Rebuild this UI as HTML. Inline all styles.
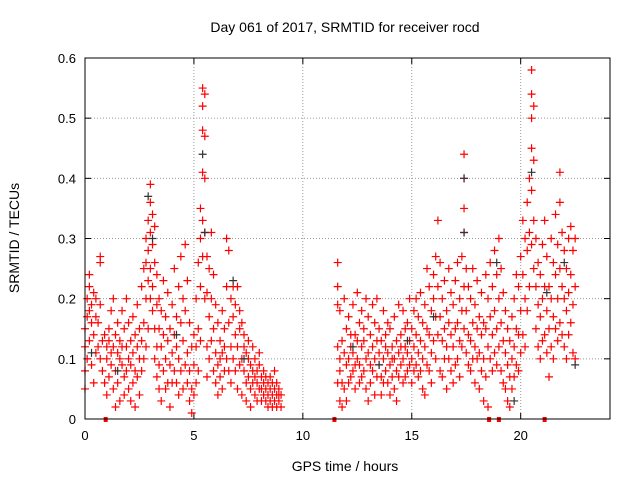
<!DOCTYPE html>
<html><head><meta charset="utf-8"><style>
body{margin:0;background:#fff;}
svg{display:block;font-family:"Liberation Sans",sans-serif;}
</style></head><body>
<svg id="chart" width="640" height="480">
<text x="345" y="32" text-anchor="middle" font-size="14">Day 061 of 2017, SRMTID for receiver rocd</text>
<text x="345" y="471" text-anchor="middle" font-size="14">GPS time / hours</text>
<text transform="translate(19,238) rotate(-90)" text-anchor="middle" font-size="14">SRMTID / TECUs</text>
<g id="grid"></g><g id="ticks"></g><g id="pts"></g>
<rect x="85" y="58" width="525" height="361" fill="none" stroke="#000"/>
</svg>
<script>
const xTicks=[0,5,10,15,20];
const yTicks=[0,0.1,0.2,0.3,0.4,0.5,0.6];
const hours=[0.0,0.1,0.2,0.3,0.4,0.5,0.6,0.7,0.8,0.9,1.0,1.1,1.2,1.3,1.4,1.5,1.6,1.7,1.8,1.9,2.0,2.1,2.2,2.3,2.4,2.5,2.6,2.7,2.8,2.9,3.0,3.1,3.2,3.3,3.4,3.5,3.6,3.7,3.8,3.9,4.0,4.1,4.2,4.3,4.4,4.5,4.6,4.7,4.8,4.9,5.0,5.1,5.2,5.3,5.4,5.5,5.6,5.7,5.8,5.9,6.0,6.1,6.2,6.3,6.4,6.5,6.6,6.7,6.8,6.9,7.0,7.1,7.2,7.3,7.4,7.5,7.6,7.7,7.8,7.9,8.0,8.1,8.2,8.3,8.4,8.5,8.6,8.7,8.8,8.9,9.0,
11.6,11.7,11.8,11.9,12.0,12.1,12.2,12.3,12.4,12.5,12.6,12.7,12.8,12.9,13.0,13.1,13.2,13.3,13.4,13.5,13.6,13.7,13.8,13.9,14.0,14.1,14.2,14.3,14.4,14.5,14.6,14.7,14.8,14.9,15.0,15.1,15.2,15.3,15.4,15.5,15.6,15.7,15.8,15.9,16.0,16.1,16.2,16.3,16.4,16.5,16.6,16.7,16.8,16.9,17.0,17.1,17.2,17.3,17.4,17.5,17.6,17.7,17.8,17.9,18.0,18.1,18.2,18.3,18.4,18.5,18.6,18.7,18.8,18.9,19.0,19.1,19.2,19.3,19.4,19.5,19.6,19.7,19.8,19.9,20.0,20.1,20.2,20.3,20.4,20.5,20.6,20.7,20.8,20.9,21.0,21.1,21.2,21.3,21.4,21.5,21.6,21.7,21.8,21.9,22.0,22.1,22.2,22.3,22.4,22.5];
const srmtid=[[.08,.15,.05,.12],[.17,.2,.1],[.22,.13,.18,.24],[.19,.09,.16],[.14,.21,.06],[.17,.11,.2],[.16,.12],[.27,.26,.1,.19],[.13,.08],[.06,.14],[.1,.12,.04],[.15,.07,.13],[.09,.18,.11],[.12,.05,.2],[.08,.14,.02],[.11,.16,.06],[.13,.03,.1],[.18,.09,.12],[.07,.15,.04],[.12,.2,.08],[.1,.16,.05],[.13,.03,.09],[.17,.11,.06],[.08,.14,.02],[.12,.19,.07],[.1,.15,.04],[.22,.13,.08],[.25,.16,.1],[.3,.2,.12,.26],[.28,.23,.15,.33],[.39,.36,.31,.25,.2],[.34,.29,.22,.18],[.32,.26,.15,.1],[.24,.19,.12,.07],[.2,.15,.09,.05],[.18,.12,.03],[.23,.14,.08],[.17,.1,.05],[.21,.13,.06],[.15,.09,.02],[.19,.11,.06],[.14,.08,.25],[.12,.06,.17],[.22,.1,.04],[.27,.16,.08],[.2,.13,.05],[.29,.18,.09],[.23,.11,.06],[.16,.08,.03],[.12,.05,.01],[.14,.09,.04],[.2,.12,.06],[.26,.15,.08],[.35,.3,.22,.13],[.55,.52,.48,.41,.33,.27],[.54,.47,.4,.31,.2],[.27,.21,.12,.07],[.25,.17,.1],[.31,.2,.13],[.24,.15,.08],[.19,.11,.06],[.16,.09,.04],[.13,.07,.1],[.18,.11,.05],[.15,.08,.12],[.3,.22,.1],[.28,.16,.08],[.2,.12,.06],[.17,.1,.22],[.14,.08,.19],[.22,.12,.05],[.18,.09,.15],[.16,.1,.04],[.14,.08,.12],[.11,.06,.03],[.13,.07,.1],[.09,.05,.02],[.12,.06,.08],[.1,.04,.07],[.08,.03,.06],[.09,.05,.11],[.07,.03,.05],[.06,.04,.08],[.05,.03,.07],[.06,.02,.04],[.05,.03,.07],[.04,.02,.06],[.05,.03,.08],[.04,.02,.06],[.05,.03,.04],[.04,.02],
[.26,.22,.19,.12,.06],[.18,.1,.03,.08],[.13,.06,.02],[.2,.11,.05],[.15,.09,.03],[.17,.1,.06],[.12,.07,.14],[.19,.11,.08],[.14,.09,.05],[.21,.13,.1],[.16,.09,.06],[.18,.12,.07],[.13,.08,.15],[.2,.1,.05],[.17,.11,.03],[.14,.09,.06],[.19,.12,.08],[.16,.1,.04],[.2,.13,.07],[.15,.09,.11],[.13,.07,.04],[.18,.1,.06],[.14,.08,.12],[.11,.06,.16],[.15,.09,.04],[.12,.07,.1],[.17,.1,.05],[.13,.08,.03],[.19,.11,.07],[.14,.09,.12],[.18,.1,.06],[.12,.07,.15],[.16,.11,.08],[.2,.13,.09],[.15,.1,.06],[.18,.12,.08],[.14,.09,.2],[.17,.11,.07],[.21,.13,.08],[.16,.1,.05],[.19,.12,.04],[.25,.15,.09],[.22,.14,.08],[.18,.11,.06],[.2,.13,.24],[.27,.17,.1],[.33,.22,.14],[.26,.17,.08],[.2,.13,.07],[.23,.15,.1],[.18,.12,.05],[.25,.16,.1],[.21,.14,.08],[.19,.12,.06],[.23,.15,.09],[.26,.16,.1],[.2,.13,.07],[.27,.18,.12],[.44,.4,.35,.31,.22,.15],[.25,.18,.11],[.22,.14,.09],[.2,.13,.08],[.25,.16,.1],[.19,.12,.06],[.23,.15,.1],[.17,.11,.05],[.21,.14,.08],[.16,.1,.03],[.24,.15,.07],[.2,.12,.02],[.26,.17,.1],[.22,.14,.08],[.28,.18,.11],[.24,.15,.09],[.3,.2,.12],[.25,.16,.08],[.21,.13,.06],[.18,.11,.05],[.15,.09,.03],[.13,.07,.02],[.17,.1,.05],[.2,.12,.07],[.24,.15,.09],[.22,.14,.08],[.27,.18,.11],[.33,.24,.14],[.3,.2,.12],[.36,.28,.18],[.4,.31,.22],[.58,.54,.5,.45,.38,.29],[.52,.43,.33,.25],[.3,.22,.15],[.26,.19,.12],[.24,.17,.1],[.29,.2,.13],[.33,.22,.14],[.27,.18,.11],[.22,.15,.07],[.3,.2,.12],[.26,.17,.1],[.34,.24,.15],[.29,.2,.13],[.41,.36,.25,.16],[.31,.22,.14],[.28,.2,.12],[.25,.18,.1],[.3,.21,.14],[.32,.24,.16],[.28,.19,.11],[.3,.22,.1]];
const darkHours=[0.3,1.5,2.9,3.1,4.2,5.4,5.5,6.8,7.3,12.3,13.5,14.8,16.0,17.4,17.4,18.9,19.7,20.5,21.2,22.0,22.5];
const darkVals=[.11,.08,.37,.3,.14,.44,.31,.23,.1,.12,.09,.13,.17,.4,.31,.26,.03,.41,.21,.26,.09];
const markHours=[0.95,11.45,18.55,19.0,21.1];
const X=h=>85+h*(525/24.1), Y=v=>419-v*(361/0.6);
const NS="http://www.w3.org/2000/svg";
function mk(tag,attrs,parent){const e=document.createElementNS(NS,tag);for(const k in attrs)e.setAttribute(k,attrs[k]);parent.appendChild(e);return e;}
const grid=document.getElementById('grid'),tk=document.getElementById('ticks'),pts=document.getElementById('pts');
xTicks.forEach(t=>{const x=X(t);
 if(t>0){const g=mk('line',{x1:x,x2:x,y1:58,y2:419,stroke:'#999','stroke-dasharray':'1,2'},grid);}
 mk('line',{x1:x,x2:x,y1:419,y2:413,stroke:'#000'},tk);mk('line',{x1:x,x2:x,y1:58,y2:64,stroke:'#000'},tk);
 const l=mk('text',{x:x,y:440,'text-anchor':'middle','font-size':13},tk);l.textContent=t;
 
 });
yTicks.forEach(t=>{const y=Y(t);
 if(t>0&&t<0.6){const g=mk('line',{x1:85,x2:610,y1:y,y2:y,stroke:'#999','stroke-dasharray':'1,2'},grid);}
 mk('line',{x1:85,x2:91,y1:y,y2:y,stroke:'#000'},tk);mk('line',{x1:610,x2:604,y1:y,y2:y,stroke:'#000'},tk);
 const l=mk('text',{x:76,y:y+5,'text-anchor':'end','font-size':13},tk);l.textContent=t===0?'0':t.toFixed(1);
 
 });
function plus(h,v,col,name){const x=X(h),y=Y(v);
 const p=mk('path',{d:`M${x-4},${y}H${x+4}M${x},${y-4}V${y+4}`,stroke:col,'stroke-width':1.2,fill:'none'},pts);
 
 }
hours.forEach((h,i)=>srmtid[i].forEach(v=>plus(h,v,'#ff0000','srmtid-point')));
darkHours.forEach((h,i)=>plus(h,darkVals[i],'#333','srmtid-dark-point'));
markHours.forEach(h=>{const r=mk('rect',{x:X(h)-2,y:417,width:4,height:5,fill:'#ff0000'},pts);
 
 });
</script>
</body></html>
